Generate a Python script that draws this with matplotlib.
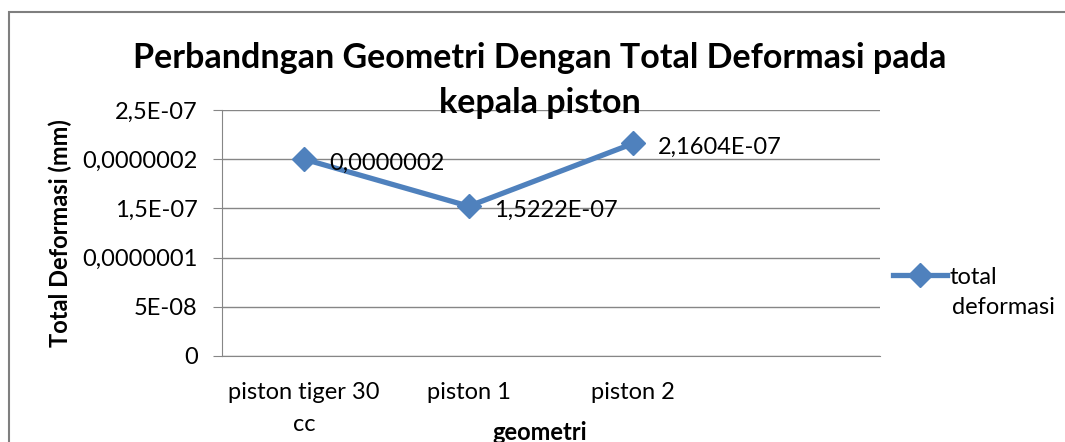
import matplotlib.pyplot as plt
from matplotlib.patches import Rectangle

categories = ['piston tiger 30\ncc', 'piston 1', 'piston 2', '']
deformasi = [2.0e-07, 1.5222e-07, 2.1604e-07]
point_labels = ['0,0000002', '1,5222E-07', '2,1604E-07']
y_ticks = [0, 5e-08, 1e-07, 1.5e-07, 2e-07, 2.5e-07]
y_tick_labels = ['0', '5E-08', '0,0000001', '1,5E-07', '0,0000002', '2,5E-07']

plt.rcParams['font.family'] = ['Lato', 'DejaVu Sans']

blue = '#4F81BD'
grid_gray = '#868686'
fs = 17

fig = plt.figure(figsize=(10.65, 4.42), dpi=100)
W, H = 1065, 442

# chart frame
fig.patches.append(Rectangle((9 / W, -0.1), 1.2, 1 - 12 / H + 0.1, transform=fig.transFigure,
                             fill=False, edgecolor='#7f7f7f', linewidth=1.5))

ax = fig.add_axes([222 / W, 1 - 356 / H, (880 - 222) / W, (356 - 110) / H])
x = list(range(len(categories)))
line, = ax.plot(x[:len(deformasi)], deformasi, color=blue, linewidth=3.8, marker='D',
                markersize=12, label='total', zorder=3)

for xi, yi, lab in zip(x, deformasi, point_labels):
    ax.annotate(lab, (xi, yi), xytext=(18, -3), textcoords='offset points',
                ha='left', va='center', fontsize=fs, zorder=4)

ax.set_xlim(-0.5, len(categories) - 0.5)
ax.set_ylim(0, 2.5e-07)
ax.set_yticks(y_ticks)
ax.set_yticklabels(y_tick_labels, fontsize=fs)
ax.set_xticks(x)
ax.set_xticklabels(categories, fontsize=fs, linespacing=1.6, va='top')
ax.tick_params(axis='x', length=0, pad=19)
ax.tick_params(axis='y', length=6.5, color=grid_gray, pad=11)
ax.grid(axis='y', color=grid_gray, linewidth=1)
ax.set_axisbelow(True)
for side in ['top', 'right']:
    ax.spines[side].set_visible(False)
ax.spines['left'].set_color(grid_gray)
ax.spines['bottom'].set_color(grid_gray)

# axis titles
fig.text(60 / W, 1 - 233 / H, 'Total Deformasi (mm)', rotation=90,
         ha='center', va='center', fontsize=fs, fontweight='bold')
fig.text(540 / W, 1 - 432 / H, 'geometri',
         ha='center', va='center', fontsize=fs, fontweight='bold')

fig.text(540 / W, 1 - 58 / H, 'Perbandngan Geometri Dengan Total Deformasi pada',
         ha='center', va='center', fontsize=24.5, fontweight='bold')
fig.text(540 / W, 1 - 103 / H, 'kepala piston',
         ha='center', va='center', fontsize=24.5, fontweight='bold')

# legend: handle next to the first line, second line of the label underneath
leg = ax.legend(loc='center left', bbox_to_anchor=(893 / W, 1 - 277 / H),
                bbox_transform=fig.transFigure, frameon=False, fontsize=fs,
                handlelength=2.3, handletextpad=0.1, borderpad=0, borderaxespad=0)
fig.text(952 / W, 1 - 308 / H, 'deformasi', ha='left', va='center', fontsize=fs)

fig.savefig('out.png', dpi=100)
